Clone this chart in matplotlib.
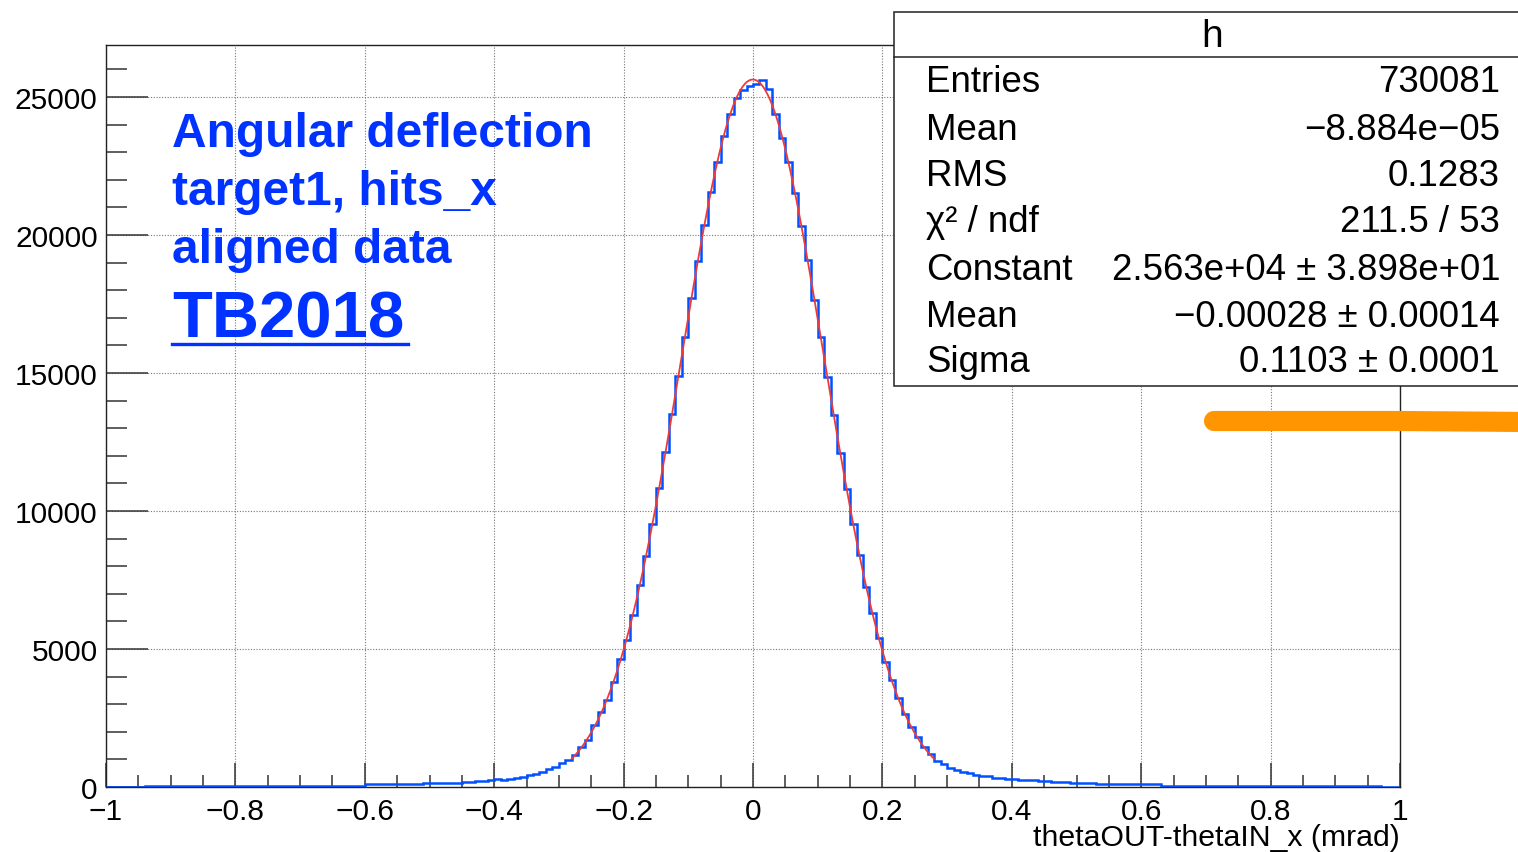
import numpy as np
import matplotlib
matplotlib.use("Agg")
import matplotlib.pyplot as plt
from matplotlib.patches import Rectangle
from matplotlib.lines import Line2D

plt.rcParams['font.family'] = ['Liberation Sans', 'DejaVu Sans']

# ---- histogram: 200 bins from -1 to 1 mrad ----
x_min, x_max, n_bins = -1.0, 1.0, 200
counts = [
    6, 8, 10, 12, 14, 16, 38, 34, 40, 30,
    42, 44, 36, 40, 46, 38, 44, 40, 46, 42,
    44, 46, 42, 48, 44, 46, 48, 44, 50, 46,
    48, 50, 46, 52, 48, 50, 52, 50, 54, 52,
    96, 98, 94, 100, 98, 104, 118, 124, 122, 128,
    146, 150, 132, 158, 162, 168, 194, 202, 228, 240,
    272, 238, 284, 338, 356, 438, 480, 552, 648, 738,
    860, 985, 1175, 1445, 1720, 2240, 2715, 3160, 3800, 4620,
    5330, 6230, 7300, 8360, 9510, 10820, 12150, 13500, 14880, 16290,
    17700, 19060, 20350, 21560, 22640, 23600, 24390, 24950, 25250, 25380,
    25450, 25600, 25300, 24380, 23520, 22650, 21520, 20330, 19080, 17660,
    16300, 14870, 13460, 12110, 10790, 9520, 8390, 7260, 6290, 5400,
    4540, 3860, 3240, 2660, 2190, 1800, 1460, 1190, 960, 850,
    700, 615, 535, 490, 450, 410, 385, 335, 320, 292,
    282, 268, 242, 236, 230, 200, 196, 190, 186, 150,
    146, 142, 138, 112, 110, 108, 106, 104, 104, 102,
    100, 98, 96, 52, 50, 50, 48, 48, 46, 46,
    48, 46, 44, 46, 44, 42, 44, 42, 40, 42,
    40, 42, 40, 38, 40, 36, 46, 40, 38, 44,
    36, 38, 34, 36, 32, 40, 22, 18, 16, 14,
]

# ---- gaussian fit result ----
fit_constant = 2.563e4
fit_mean = -0.00028
fit_sigma = 0.1103
fit_range = (-0.28, 0.28)

# ---- statistics box ----
stats_title = "h"
stat_labels = ["Entries", "Mean", "RMS", "\u03c7\u00b2 / ndf", "Constant", "Mean", "Sigma"]
stat_values = ["730081", "\u22128.884e\u221205", "0.1283", "211.5 / 53",
               "2.563e+04 \u00b1 3.898e+01", "\u22120.00028 \u00b1 0.00014",
               "0.1103 \u00b1 0.0001"]

# ---- axes ticks ----
x_ticks = [-1.0, -0.8, -0.6, -0.4, -0.2, 0.0, 0.2, 0.4, 0.6, 0.8, 1.0]
x_tick_labels = ["\u22121", "\u22120.8", "\u22120.6", "\u22120.4", "\u22120.2", "0",
                 "0.2", "0.4", "0.6", "0.8", "1"]
y_ticks = [0, 5000, 10000, 15000, 20000, 25000]
y_tick_labels = ["0", "5000", "10000", "15000", "20000", "25000"]
x_title = "thetaOUT-thetaIN_x (mrad)"

title_lines = ["Angular deflection", "target1, hits_x", "aligned data"]
title_run = "TB2018"

W, H = 1518, 853
fig = plt.figure(figsize=(W / 100, H / 100), dpi=100)
fig.patch.set_facecolor("white")


def fx(px):
    return px / W


def fy(py):
    return 1 - py / H


ax = fig.add_axes([fx(106), fy(788), fx(1400) - fx(106), fy(46) - fy(788)])

edges = np.linspace(x_min, x_max, n_bins + 1)
ax.stairs(counts, edges, color="#0050ff", lw=1.8, zorder=3)

xf = np.linspace(fit_range[0], fit_range[1], 500)
yf = fit_constant * np.exp(-0.5 * ((xf - fit_mean) / fit_sigma) ** 2)
ax.plot(xf, yf, color="#f03a3a", lw=1.3, zorder=4)

ax.set_xlim(x_min, x_max)
ax.set_ylim(0, 1.05 * max(counts))

ax.set_xticks(x_ticks)
ax.set_xticklabels(x_tick_labels)
ax.set_yticks(y_ticks)
ax.set_yticklabels(y_tick_labels)
ax.set_xticks(np.arange(-1.0, 1.0001, 0.05), minor=True)
ax.set_yticks(np.arange(0, 26001, 1000), minor=True)

ax.tick_params(axis="both", which="both", direction="in", top=False, right=False,
               labelsize=21.5, width=1.1, color="#333333")
ax.tick_params(axis="x", which="major", length=17, pad=7)
ax.tick_params(axis="x", which="minor", length=8.5)
ax.tick_params(axis="y", which="major", length=30, pad=6)
ax.tick_params(axis="y", which="minor", length=15)

ax.grid(True, which="major", linestyle=(0, (1, 1.5)), color="#777777", lw=0.8)
ax.set_axisbelow(True)
for s in ax.spines.values():
    s.set_color("#222222")
    s.set_linewidth(1.0)

fig.text(fx(1400), fy(838), x_title, ha="right", va="center", fontsize=21.8)

# blue annotation text
blue = "#0033ff"
for i, line in enumerate(title_lines):
    fig.text(fx(172), fy(147 + 58 * i), line, ha="left", va="baseline",
             fontsize=34.5, fontweight="bold", color=blue)
fig.text(fx(172), fy(338), title_run, ha="left", va="baseline",
         fontsize=47, fontweight="bold", color=blue)
fig.add_artist(Line2D([fx(172), fx(408)], [fy(345), fy(345)], color=blue, lw=2.4))

# statistics box
fig.add_artist(Rectangle((fx(894), fy(387)), fx(1540) - fx(894), fy(13) - fy(387),
                         transform=fig.transFigure, facecolor="white",
                         edgecolor="#222222", lw=1.1, zorder=5, clip_on=False))
fig.add_artist(Line2D([fx(894), 1.0], [fy(58), fy(58)], color="#222222", lw=1.1, zorder=6))
fig.text(fx(1212), fy(37), stats_title, ha="center", va="center", fontsize=28, zorder=7)
row_y = [83, 131, 177, 222, 270, 318, 362]
for lab, val, yy in zip(stat_labels, stat_values, row_y):
    fig.text(fx(926), fy(yy), lab, ha="left", va="center", fontsize=26.4, zorder=7)
    fig.text(fx(1500), fy(yy), val, ha="right", va="center", fontsize=26.4, zorder=7)

# highlighter stroke
fig.add_artist(Line2D([fx(1214), fx(1400), fx(1530)], [fy(422), fy(422), fy(423)],
                      color="#ff9500", lw=14.5, solid_capstyle="round", zorder=8))

fig.savefig("out.png", dpi=100)
